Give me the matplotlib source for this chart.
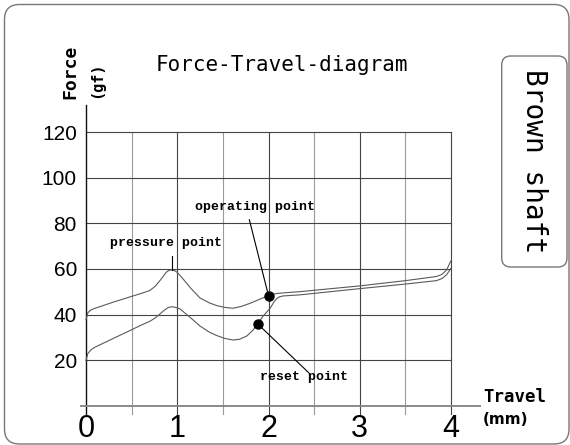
import numpy as np
import matplotlib
matplotlib.use("Agg")
import matplotlib.pyplot as plt
from matplotlib.patches import FancyBboxPatch

# press stroke (upper curve), travel in mm / force in gf
press_travel = [0.0, 0.02, 0.05, 0.1, 0.3, 0.5, 0.62, 0.7, 0.76, 0.81, 0.85, 0.88, 0.91, 0.94,
                0.97, 1.0, 1.05, 1.15, 1.25, 1.35, 1.43, 1.52, 1.61, 1.7, 1.8, 1.9, 1.96,
                2.0, 2.04, 2.08, 2.12, 2.35, 3.0, 3.5, 3.84, 3.9, 3.95, 4.0]
press_force = [37.8, 40.8, 42.0, 42.8, 45.5, 48.0, 49.5, 50.6, 52.5, 54.9, 57.0, 58.6, 59.4, 59.6,
               59.3, 58.5, 56.3, 51.5, 47.3, 45.2, 44.0, 43.2, 42.8, 43.6, 45.0, 46.7, 47.7,
               48.3, 48.8, 49.2, 49.4, 50.1, 52.6, 54.9, 56.7, 57.6, 59.5, 63.6]

# release stroke (lower curve)
release_travel = [0.0, 0.02, 0.06, 0.1, 0.3, 0.5, 0.62, 0.7, 0.76, 0.81, 0.86, 0.9, 0.94, 0.98,
                  1.03, 1.15, 1.25, 1.35, 1.43, 1.52, 1.61, 1.68, 1.76, 1.83, 1.88, 1.94,
                  2.02, 2.06, 2.09, 2.12, 2.16, 2.35, 3.0, 3.5, 3.84, 3.9, 3.95, 4.0]
release_force = [20.0, 23.0, 24.8, 25.8, 29.6, 33.4, 35.7, 37.1, 38.6, 40.3, 42.0, 43.1, 43.5, 43.2,
                 42.5, 38.5, 35.0, 32.4, 30.9, 29.6, 28.9, 29.2, 30.6, 33.2, 36.0, 39.3,
                 42.9, 45.6, 47.0, 47.8, 48.2, 48.7, 51.4, 53.4, 54.9, 55.8, 57.4, 60.3]

# annotations: (label, text x, text y, leader from, leader to)
notes = ["pressure point", "operating point", "reset point"]
note_xy = [(0.88, 71.5), (1.85, 87.0), (2.39, 12.8)]
note_line = [((0.94, 65.8), (0.94, 59.6)),
             ((1.79, 81.6), (2.0, 48.3)),
             ((2.44, 14.6), (1.88, 36.0))]
dots = [(2.0, 48.3), (1.88, 36.0)]

x_ticks = [0, 1, 2, 3, 4]
y_ticks = [20, 40, 60, 80, 100, 120]

fig = plt.figure(figsize=(5.7, 4.45), dpi=100)
ax = fig.add_axes([86 / 570, 39 / 445, 365 / 570, 274 / 445])
ax.set_xlim(0, 4)
ax.set_ylim(0, 120)
for s in ax.spines.values():
    s.set_visible(False)

# grid
for x in np.arange(0.5, 4.01, 0.5):
    col = "#444444" if x % 1 == 0 else "#9a9a9a"
    ax.plot([x, x], [-3.5, 120], color=col, lw=0.8, clip_on=False, zorder=1)
for y in y_ticks:
    ax.plot([0, 4], [y, y], color="#444444", lw=0.8, clip_on=False, zorder=1)
ax.plot([0, 0], [-3.5, 131.8], color="#111111", lw=1.0, clip_on=False, zorder=2)
ax.plot([-0.05, 4.32], [0, 0], color="#8a8a8a", lw=1.4, clip_on=False, zorder=2)

ax.plot(press_travel, press_force, color="#5a5a5a", lw=0.8, clip_on=False, zorder=3)
ax.plot(release_travel, release_force, color="#5a5a5a", lw=0.8, clip_on=False, zorder=3)

for (p0, p1) in note_line:
    ax.plot([p0[0], p1[0]], [p0[1], p1[1]], color="black", lw=0.8, clip_on=False, zorder=4)
for (dx, dy) in dots:
    ax.plot(dx, dy, "o", color="black", ms=6.5, zorder=5)
for lab, (tx, ty) in zip(notes, note_xy):
    ax.text(tx, ty, lab, ha="center", va="center", fontsize=9.5,
            family="Liberation Mono", fontweight="bold")

ax.set_xticks(x_ticks)
ax.set_xticklabels([str(v) for v in x_ticks], fontsize=22, family="Liberation Sans")
ax.set_yticks(y_ticks)
ax.set_yticklabels([str(v) for v in y_ticks], fontsize=15, family="Liberation Sans")
ax.tick_params(axis="both", length=0)
ax.tick_params(axis="y", pad=6.5)
ax.tick_params(axis="x", pad=6)

ax.text(2.15, 149.3, "Force-Travel-diagram", ha="center", va="center",
        fontsize=15, family="DejaVu Sans Mono")
ax.text(-0.175, 146.3, "Force", ha="center", va="center", rotation=90,
        fontsize=13, family="DejaVu Sans Mono", fontweight="bold")
ax.text(0.12, 142.8, "(gf)", ha="center", va="center", rotation=90,
        fontsize=11, family="DejaVu Sans Mono", fontweight="bold")
ax.text(4.35, 3.9, "Travel", ha="left", va="center",
        fontsize=12.5, family="DejaVu Sans Mono", fontweight="bold")
ax.text(4.35, -6.1, "(mm)", ha="left", va="center",
        fontsize=11, family="DejaVu Sans", fontweight="bold")
ax.text(4.91, 107.3, "Brown shaft", ha="center", va="center", rotation=-90,
        fontsize=20, family="DejaVu Sans Mono")

# frames (in inches)
fig.patches.append(FancyBboxPatch((0.045, 0.01), 5.645, 4.395,
                                  boxstyle="round,pad=0,rounding_size=0.15",
                                  transform=fig.dpi_scale_trans, fill=False,
                                  ec="#777777", lw=1.0))
fig.patches.append(FancyBboxPatch((5.017, 1.78), 0.653, 2.11,
                                  boxstyle="round,pad=0,rounding_size=0.09",
                                  transform=fig.dpi_scale_trans, fill=False,
                                  ec="#777777", lw=1.0))

fig.savefig("out.png", dpi=100)
